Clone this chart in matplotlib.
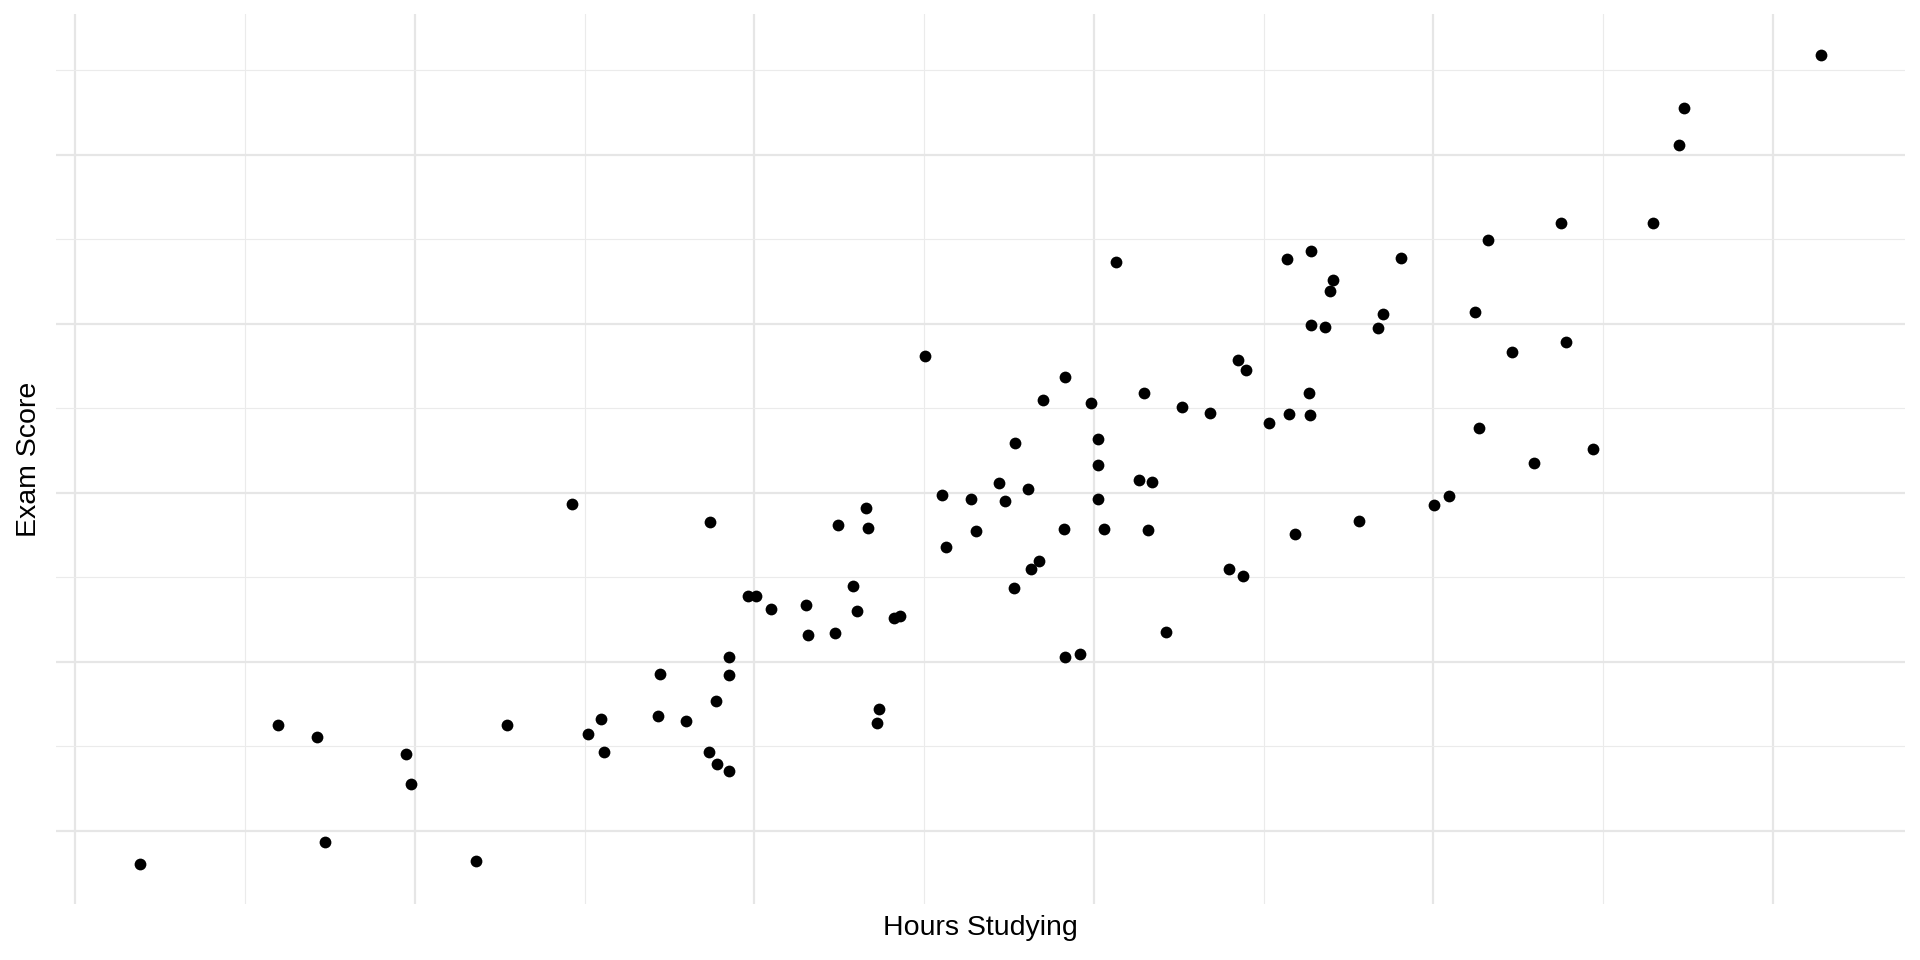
import numpy as np
import matplotlib
matplotlib.use('Agg')
import matplotlib.pyplot as plt
from matplotlib.ticker import MultipleLocator, NullFormatter

plt.rcParams['font.family'] = ['Liberation Sans', 'DejaVu Sans']

# horas de estudio vs nota del examen
hours = [0.379, 1.195, 1.426, 1.473, 1.946, 1.975, 2.361, 2.542, 2.928, 3.018,
         3.094, 3.116, 3.430, 3.444, 3.599, 3.733, 3.740, 3.776, 3.783, 3.852,
         3.848, 3.848, 3.960, 4.007, 4.101, 4.303, 4.318, 4.477, 4.495, 4.581,
         4.603, 4.657, 4.671, 4.733, 4.722, 4.823, 4.859, 5.004, 5.105, 5.130,
         5.274, 5.304, 5.439, 5.477, 5.534, 5.531, 5.612, 5.630, 5.678, 5.699,
         5.827, 5.832, 5.832, 5.920, 5.983, 6.024, 6.026, 6.022, 6.061, 6.129,
         6.269, 6.295, 6.319, 6.344, 6.425, 6.518, 6.687, 6.795, 6.851, 6.877,
         6.895, 7.032, 7.136, 7.152, 7.186, 7.267, 7.271, 7.280, 7.277, 7.365,
         7.394, 7.408, 7.565, 7.674, 7.702, 7.810, 8.002, 8.090, 8.246, 8.271,
         8.320, 8.464, 8.595, 8.754, 8.784, 8.941, 9.297, 9.445, 9.475, 10.282]

scores = [48.04, 56.26, 55.55, 49.36, 54.54, 52.75, 48.22, 56.25, 69.36, 55.72,
          56.64, 54.64, 56.81, 59.26, 56.48, 54.64, 68.24, 57.70, 53.93, 60.29,
          59.22, 53.52, 63.90, 63.90, 63.12, 63.33, 61.59, 61.71, 68.08, 64.47,
          63.01, 69.09, 67.92, 57.19, 56.38, 62.58, 62.72, 78.12, 69.88, 66.78,
          69.60, 67.75, 70.59, 69.50, 72.96, 64.38, 70.21, 65.49, 65.96, 75.46,
          67.88, 76.83, 60.26, 60.43, 75.33, 73.19, 71.65, 69.62, 67.84, 83.64,
          70.75, 75.92, 67.78, 70.63, 61.74, 75.09, 74.70, 65.51, 77.87, 65.09,
          77.26, 74.12, 83.82, 74.64, 67.53, 75.91, 74.58, 84.29, 79.90, 79.78,
          81.93, 82.60, 68.33, 79.74, 80.55, 83.91, 69.28, 69.80, 80.70, 73.85,
          84.97, 78.32, 71.78, 85.97, 78.91, 72.57, 85.97, 90.59, 92.79, 95.91]

fig = plt.figure(figsize=(19.2, 9.6), dpi=100)
ax = fig.add_axes([0.029, 0.058, 0.963, 0.927])

ax.scatter(hours, scores, s=72, color='black', linewidths=0, zorder=3)
ax.margins(0.05)

# estilo minimal: solo rejilla
ax.xaxis.set_major_locator(MultipleLocator(2))
ax.xaxis.set_minor_locator(MultipleLocator(1))
ax.yaxis.set_major_locator(MultipleLocator(10))
ax.yaxis.set_minor_locator(MultipleLocator(5))
ax.xaxis.set_major_formatter(NullFormatter())
ax.yaxis.set_major_formatter(NullFormatter())
ax.tick_params(which='both', length=0)
ax.grid(True, which='major', color='#E6E6E6', linewidth=1.6, zorder=0)
ax.grid(True, which='minor', color='#EBEBEB', linewidth=0.8, zorder=0)
ax.set_axisbelow(True)
for s in ax.spines.values():
    s.set_visible(False)

ax.set_xlabel('Hours Studying', fontsize=20.5, color='black', labelpad=4)
ax.set_ylabel('Exam Score', fontsize=20.5, color='black', labelpad=6)

fig.savefig('out.png', dpi=100, facecolor='white')
